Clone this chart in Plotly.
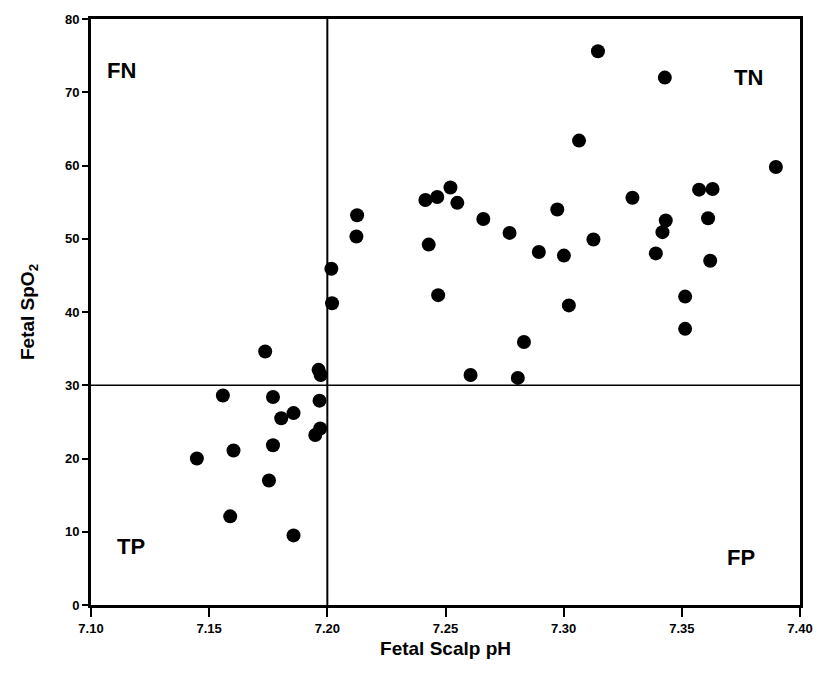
import plotly.graph_objects as go

scalp_ph = [
    7.1448, 7.1558, 7.1603, 7.1589, 7.1737, 7.1770, 7.1770, 7.1753, 7.1805, 7.1857,
    7.1857, 7.1963, 7.1972, 7.1967, 7.1949, 7.1970, 7.2020, 7.2017, 7.2126, 7.2123,
    7.3145, 7.3428, 7.3065, 7.3898, 7.2521, 7.2415, 7.2465, 7.2550, 7.2660, 7.2771,
    7.2429, 7.2469, 7.2973, 7.2895, 7.3001, 7.3126, 7.3022, 7.3291, 7.3573, 7.3630,
    7.3611, 7.3432, 7.3418, 7.3390, 7.3620, 7.3514, 7.3514, 7.2832, 7.2606, 7.2806,
]
spo2 = [
    20.0, 28.6, 21.1, 12.1, 34.6, 28.4, 21.8, 17.0, 25.5, 26.2,
    9.5, 32.1, 31.4, 27.9, 23.2, 24.1, 41.2, 45.9, 53.2, 50.3,
    75.6, 72.0, 63.4, 59.8, 57.0, 55.3, 55.7, 54.9, 52.7, 50.8,
    49.2, 42.3, 54.0, 48.2, 47.7, 49.9, 40.9, 55.6, 56.7, 56.8,
    52.8, 52.5, 50.9, 48.0, 47.0, 42.1, 37.7, 35.9, 31.4, 31.0,
]

ph_cutoff = 7.20
spo2_cutoff = 30

x_ticks = [7.10, 7.15, 7.20, 7.25, 7.30, 7.35, 7.40]
x_tick_labels = ["7.10", "7.15", "7.20", "7.25", "7.30", "7.35", "7.40"]
y_ticks = [0, 10, 20, 30, 40, 50, 60, 70, 80]

quad_labels = ["FN", "TN", "TP", "FP"]
quad_x = [7.113, 7.378, 7.117, 7.375]
quad_y = [73.0, 72.0, 8.0, 6.5]

font_family = "Liberation Sans, Arial, sans-serif"

fig = go.Figure()
fig.add_trace(go.Scatter(
    x=scalp_ph, y=spo2, mode="markers",
    marker=dict(color="black", size=14),
    showlegend=False, hoverinfo="x+y",
))

fig.add_shape(type="line", x0=ph_cutoff, x1=ph_cutoff, y0=0, y1=80,
              xref="x", yref="y", line=dict(color="black", width=2))
fig.add_shape(type="line", x0=7.10, x1=7.40, y0=spo2_cutoff, y1=spo2_cutoff,
              xref="x", yref="y", line=dict(color="black", width=1.6))

for t, xx, yy in zip(quad_labels, quad_x, quad_y):
    fig.add_annotation(x=xx, y=yy, text="<b>%s</b>" % t, showarrow=False,
                       xanchor="center", yanchor="middle",
                       font=dict(family=font_family, size=22, color="black"))

fig.update_layout(
    width=825, height=686,
    paper_bgcolor="white", plot_bgcolor="white",
    margin=dict(l=91, r=25, t=19, b=81),
    font=dict(family=font_family, color="black"),
)
fig.update_xaxes(
    range=[7.10, 7.40], tickvals=x_ticks, ticktext=x_tick_labels,
    showgrid=False, zeroline=False,
    showline=True, linecolor="black", linewidth=3, mirror=True,
    ticks="outside", ticklen=9, tickwidth=2, tickcolor="black",
    tickfont=dict(family=font_family, size=13, color="black", weight="bold"),
    title=dict(text="<b>Fetal Scalp pH</b>", font=dict(family=font_family, size=19), standoff=8),
)
fig.update_yaxes(
    range=[0, 80], tickvals=y_ticks,
    showgrid=False, zeroline=False,
    showline=True, linecolor="black", linewidth=3, mirror=True,
    ticks="outside", ticklen=6, tickwidth=2, tickcolor="black",
    tickfont=dict(family=font_family, size=13, color="black", weight="bold"),
    title=dict(text="<b>Fetal SpO<sub>2</sub></b>", font=dict(family=font_family, size=19), standoff=26),
)

fig.write_html("out.html")
